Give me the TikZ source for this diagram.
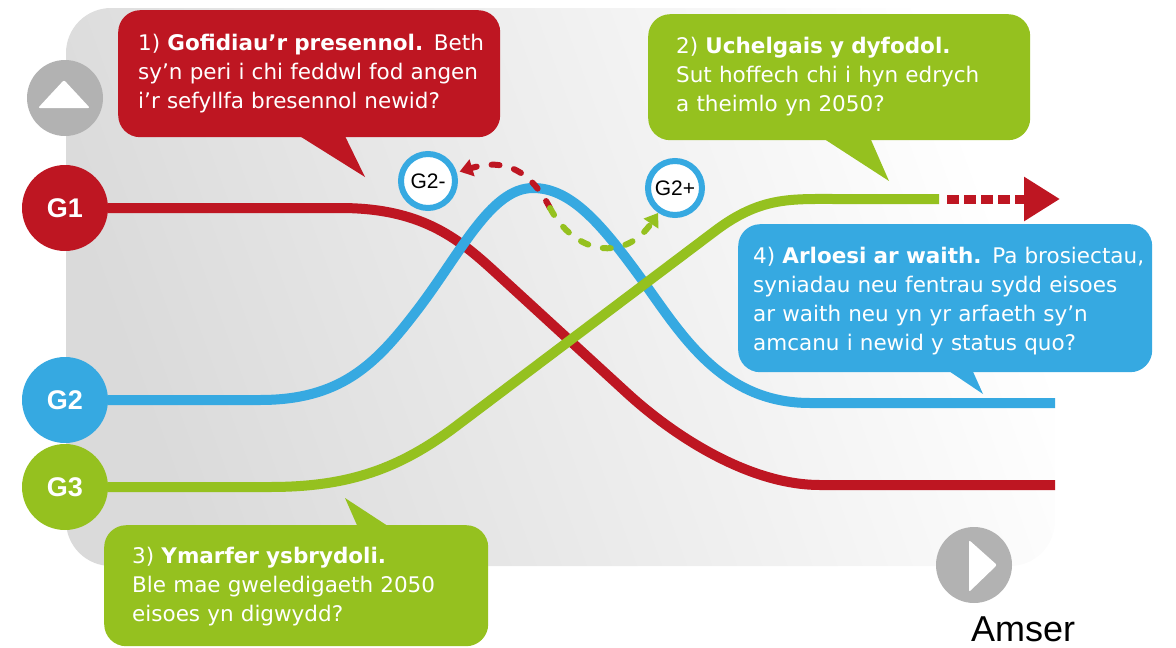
\documentclass[tikz,border=0pt]{standalone}
\usepackage{fontspec}
\setmainfont{DejaVu Sans}
\newfontfamily\lib{Liberation Sans}
\usetikzlibrary{arrows.meta}
\definecolor{cred}{HTML}{BE1622}
\definecolor{cgreen}{HTML}{95C11F}
\definecolor{cblue}{HTML}{36A9E1}
\definecolor{cgray}{HTML}{B2B2B2}
\definecolor{cpanel}{HTML}{DADADA}
\begin{document}
\begin{tikzpicture}[x=1pt,y=-1pt,
  gline/.style={line width=10pt},
  gcirc/.style={circle, inner sep=0pt, minimum size=86pt, text=white, font=\lib\bfseries\fontsize{27}{27}\selectfont},
  scirc/.style={circle, draw=cblue, line width=6pt, fill=white, inner sep=0pt, minimum size=54pt, font=\lib\fontsize{21}{21}\selectfont},
  callbox/.style={rectangle, rounded corners=22pt, inner sep=0pt, anchor=north west},
  ctext/.style={anchor=base west, inner sep=0pt, text=white, text width=430pt, align=left, font=\fontsize{21.5}{29}\selectfont},
  dconn/.style={line width=6pt, line cap=round, dash pattern=on 8pt off 15pt, -{Triangle[length=13pt,width=17pt]}},
  icon/.style={circle, fill=cgray, minimum size=76pt, inner sep=0pt}]

\useasboundingbox (0,0) rectangle (1176,648);

% background panel (unflipped y so the shading angle acts as usual)
\begin{scope}[y=1pt]
\shade[rounded corners=45pt, left color=cpanel, right color=white, shading angle=110] (66,-8) rectangle (1055,-566);
\end{scope}

% icons
\node[icon] (up) at (65,98) {};
\fill[white, rounded corners=2pt] ([shift={(-27,10)}]up.center) -- ([shift={(-1,-18)}]up.center) -- ([shift={(25,10)}]up.center) -- cycle;
\node[icon] (play) at (974,565) {};
\fill[white, rounded corners=2pt] ([shift={(-5,-25)}]play.center) -- ([shift={(23,0)}]play.center) -- ([shift={(-5,27)}]play.center) -- cycle;
\node[font=\lib\fontsize{36}{36}\selectfont, anchor=base, inner sep=0pt] (amser) at (1023,641) {Amser};

% group circles
\node[gcirc, fill=cred] (G1) at (65,208) {G1};
\node[gcirc, fill=cblue] (G2) at (65,400) {G2};
\node[gcirc, fill=cgreen] (G3) at (65,487) {G3};

% curves
\draw[gline, cred] (G1.east) -- (340,208) .. controls (420,208) and (457,237) .. (495,272)
  -- (627,393) .. controls (675,437) and (750,485) .. (820,485) -- (1055,485);
\draw[gline, cblue] (G2.east) -- (260,400) .. controls (340,400) and (375,365) .. (415,313)
  .. controls (460,255) and (490,188) .. (533,188)
  .. controls (570,188) and (600,222) .. (640,277)
  .. controls (680,332) and (720,403) .. (810,403) -- (1055,403);
\coordinate (gend) at (939,199);
\draw[gline, cgreen] (G3.east) -- (270,487) .. controls (350,487) and (400,468) .. (455,427)
  -- (715,231) .. controls (760,197) and (790,199) .. (835,199) -- (gend);

% future arrow
\coordinate (rs) at (947,199);
\coordinate (re) at (1060,199);
\draw[cred, line width=9pt, dash pattern=on 12pt off 5pt, -{Triangle[length=36pt,width=42pt]}] (rs) -- (re);

% G2- / G2+
\node[scirc] (G2m) at (428,181) {G2-};
\node[scirc] (G2p) at (675,188) {G2+};
\coordinate (split) at (550,208);
\draw[dconn, cred, shorten >=3pt] (split) .. controls (530,170) and (505,158) .. (G2m);
\draw[dconn, cgreen] (split) .. controls (575,255) and (625,262) .. (G2p);

% callout 1
\node[callbox, fill=cred, minimum width=382pt, minimum height=127pt] (c1) at (118,10) {};
\fill[cred] (290,130) -- (365,177) -- (342,130) -- cycle;
\node[ctext] (t1) at (138,50) {1) \textbf{Gofidiau’r presennol.} Beth\\sy’n peri i chi feddwl fod angen\\i’r sefyllfa bresennol newid?};

% callout 2
\node[callbox, fill=cgreen, minimum width=382pt, minimum height=126pt] (c2) at (648,14) {};
\fill[cgreen] (815,133) -- (889,181) -- (868,133) -- cycle;
\node[ctext] (t2) at (676,53) {2) \textbf{Uchelgais y dyfodol.}\\Sut hoffech chi i hyn edrych\\a theimlo yn 2050?};

% callout 3
\node[callbox, fill=cgreen, minimum width=384pt, minimum height=121pt] (c3) at (104,525) {};
\fill[cgreen] (360,532) -- (345,498) -- (397,532) -- cycle;
\node[ctext] (t3) at (132,563) {3) \textbf{Ymarfer ysbrydoli.}\\Ble mae gweledigaeth 2050\\eisoes yn digwydd?};

% callout 4
\node[callbox, fill=cblue, minimum width=414pt, minimum height=148pt] (c4) at (738,224) {};
\fill[cblue] (940,365) -- (983,394) -- (970,365) -- cycle;
\node[ctext] (t4) at (753,263) {4) \textbf{Arloesi ar waith.} Pa brosiectau,\\syniadau neu fentrau sydd eisoes\\ar waith neu yn yr arfaeth sy’n\\amcanu i newid y status quo?};
\end{tikzpicture}
\end{document}
